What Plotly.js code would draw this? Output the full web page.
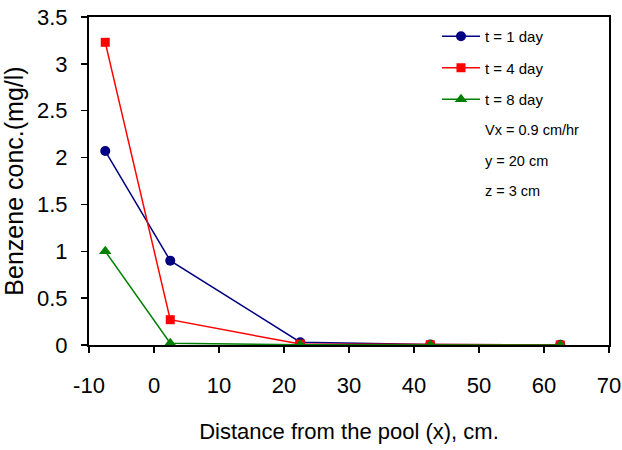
<!DOCTYPE html>
<html><head><meta charset="utf-8">
<script src="https://cdn.plot.ly/plotly-3.0.1.min.js"></script>
<style>html,body{margin:0;padding:0;background:#fff}</style>
</head><body>
<div id="chart" style="width:622px;height:450px"></div>
<script>
const distance = [-7.5, 2.5, 22.5, 42.5, 62.5];
const day1 = [2.07, 0.90, 0.03, 0.005, 0.002];
const day4 = [3.23, 0.27, 0.01, 0.003, 0.001];
const day8 = [1.00, 0.02, 0.002, 0.001, 0.0];
const seriesNames = ['t = 1 day', 't = 4 day', 't = 8 day'];
const notes = ['Vx = 0.9 cm/hr', 'y = 20 cm', 'z = 3 cm'];
const xTicks = [-10, 0, 10, 20, 30, 40, 50, 60, 70];
const yTicks = [0, 0.5, 1, 1.5, 2, 2.5, 3, 3.5];

const fontFam = 'Liberation Sans, Arial, sans-serif';
const traces = [
  {x: distance, y: day1, name: seriesNames[0], legendgroup: 'a', mode: 'lines+markers',
   line: {color: '#000080', width: 1.5}, marker: {symbol: 'circle', size: 10, color: '#000080'}},
  {x: distance, y: day4, name: seriesNames[1], legendgroup: 'b', mode: 'lines+markers',
   line: {color: '#FF0000', width: 1.5}, marker: {symbol: 'square', size: 9, color: '#FF0000'}},
  {x: distance, y: day8, name: seriesNames[2], legendgroup: 'c', mode: 'lines+markers',
   line: {color: '#008000', width: 1.5}, marker: {symbol: 'triangle-up', size: 11, color: '#008000'}}
];
const annotations = notes.map((t, i) => ({
  text: t, xref: 'paper', yref: 'paper', x: (483 - 89) / 520, y: 1 - ((130 + 30.5 * i) - 17) / 328,
  xanchor: 'left', yanchor: 'middle', showarrow: false,
  font: {family: fontFam, size: 14.5, color: '#000'}
}));
const layout = {
  width: 622, height: 450,
  margin: {l: 89, r: 13, t: 17, b: 105},
  paper_bgcolor: '#fff', plot_bgcolor: '#fff',
  showlegend: true,
  legend: {x: (437 - 89) / 520, y: 1 - (20 - 17) / 328, xanchor: 'left', yanchor: 'top',
    bgcolor: 'rgba(0,0,0,0)', tracegroupgap: 9, traceorder: 'grouped', itemwidth: 38,
    font: {family: fontFam, size: 15, color: '#000'}},
  xaxis: {range: [-10, 70], tickvals: xTicks, ticktext: xTicks.map(String),
    showgrid: false, zeroline: false, showline: true, linecolor: '#000', linewidth: 2,
    mirror: true, ticks: 'outside', ticklen: 6, tickwidth: 1.5, tickcolor: '#000',
    ticklabelstandoff: 14, ticklabeloverflow: 'allow',
    tickfont: {family: fontFam, size: 22, color: '#000'},
    title: {text: 'Distance from the pool (x), cm.', standoff: 26,
      font: {family: fontFam, size: 22, color: '#000'}}},
  yaxis: {range: [0, 3.5], tickvals: yTicks, ticktext: yTicks.map(String),
    showgrid: false, zeroline: false, showline: true, linecolor: '#000', linewidth: 2,
    mirror: true, ticks: 'outside', ticklen: 6, tickwidth: 1.5, tickcolor: '#000',
    ticklabelstandoff: 9, ticklabeloverflow: 'allow',
    tickfont: {family: fontFam, size: 22, color: '#000'},
    title: {text: 'Benzene conc.(mg/l)', standoff: 10,
      font: {family: fontFam, size: 25, color: '#000'}}},
  annotations: annotations
};
Plotly.newPlot('chart', traces, layout, {displayModeBar: false, staticPlot: true});
</script>
</body></html>
